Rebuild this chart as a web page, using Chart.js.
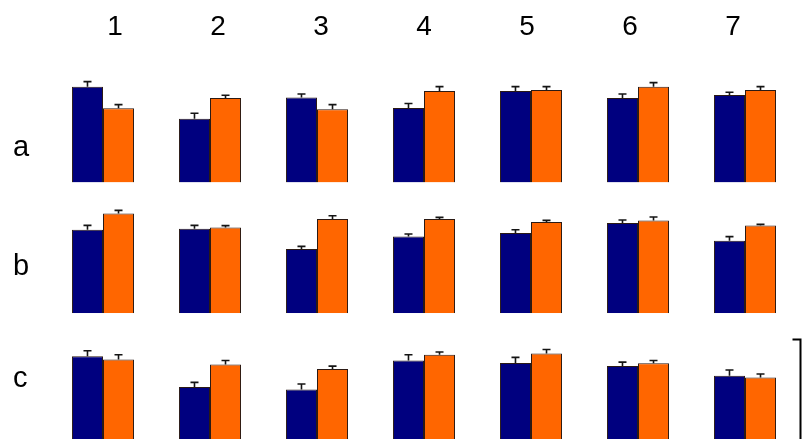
<!DOCTYPE html>
<html>
<head>
<meta charset="utf-8">
<title>Panels a-c, conditions 1-7</title>
<script src="https://cdn.jsdelivr.net/npm/chart.js@4"></script>
<style>
  html, body { margin: 0; padding: 0; background: #fff; overflow: hidden; }
  #wrap { position: relative; width: 803px; height: 444px; }
</style>
</head>
<body>
<div id="wrap"><canvas id="panels"></canvas></div>
<script>
const columns = ['1', '2', '3', '4', '5', '6', '7'];
const rows = ['a', 'b', 'c'];

// row a
const navyA = [91.7, 61.1, 81.2, 71.3, 87.6, 80.9, 83.8];
const navyAErr = [4.8, 5.2, 3.5, 4.2, 4.1, 3.8, 2.5];
const orangeA = [71.1, 80.9, 70.1, 87.6, 88.5, 91.7, 88.5];
const orangeAErr = [3.4, 2.6, 4.4, 4.1, 3.2, 3.8, 3.2];

// row b
const navyB = [79.9, 80.9, 61.5, 73.3, 76.8, 86.3, 69.4];
const navyBErr = [4.1, 3.1, 2.5, 2.5, 3.1, 2.9, 3.9];
const orangeB = [95.5, 82.1, 90.2, 90.2, 87.3, 88.8, 83.8];
const orangeBErr = [2.9, 1.7, 3.1, 1.5, 1.5, 3.3, 1.2];

// row c
const navyC = [84.0, 54.4, 52.2, 79.9, 77.4, 74.5, 65.3];
const navyCErr = [5.2, 4.5, 5.1, 5.5, 5.4, 3.8, 5.4];
const orangeC = [80.9, 76.1, 71.6, 85.4, 86.6, 77.1, 63.7];
const orangeCErr = [4.5, 3.8, 2.9, 2.5, 3.8, 2.8, 3.2];

const scaleBar = 100;

const NAVY = '#00007f';
const ORANGE = '#ff6600';
const EDGE = '#2b1a14';
const FONT = "'Liberation Sans', Arial, sans-serif";

const rowData = [
    { id: 'ya', navy: navyA, navyErr: navyAErr, orange: orangeA, orangeErr: orangeAErr },
    { id: 'yb', navy: navyB, navyErr: navyBErr, orange: orangeB, orangeErr: orangeBErr },
    { id: 'yc', navy: navyC, navyErr: navyCErr, orange: orangeC, orangeErr: orangeCErr }
];

const datasets = [];
rowData.forEach(r => {
    datasets.push({
        data: r.navy, errors: r.navyErr, stack: 'navy', xAxisID: 'x', yAxisID: r.id,
        backgroundColor: NAVY, borderColor: EDGE, borderWidth: 1
    });
    datasets.push({
        data: r.orange, errors: r.orangeErr, stack: 'orange', xAxisID: 'x', yAxisID: r.id,
        backgroundColor: ORANGE, borderColor: EDGE, borderWidth: 1
    });
});

// error whiskers (upper half only, like the original)
const errorBars = {
    id: 'errorBars',
    afterDatasetsDraw(chart) {
        const ctx = chart.ctx;
        ctx.save();
        ctx.strokeStyle = '#141414';
        ctx.lineWidth = 1.6;
        chart.data.datasets.forEach((ds, i) => {
            const meta = chart.getDatasetMeta(i);
            const yScale = chart.scales[ds.yAxisID];
            meta.data.forEach((bar, j) => {
                const top = yScale.getPixelForValue(ds.data[j]);
                const tip = yScale.getPixelForValue(ds.data[j] + ds.errors[j]);
                ctx.beginPath();
                ctx.moveTo(bar.x, top);
                ctx.lineTo(bar.x, tip);
                ctx.moveTo(bar.x - 4, tip);
                ctx.lineTo(bar.x + 4, tip);
                ctx.stroke();
            });
        });
        ctx.restore();
    }
};

// row letters and the scale bracket at the right
const decorations = {
    id: 'decorations',
    afterDraw(chart) {
        const ctx = chart.ctx;
        const lift = [27, 38, 57];
        ctx.save();
        ctx.fillStyle = '#000';
        ctx.font = '29px ' + FONT;
        ctx.textAlign = 'left';
        ctx.textBaseline = 'alphabetic';
        rows.forEach((label, k) => {
            const sc = chart.scales[rowData[k].id];
            ctx.fillText(label, 13, sc.bottom - lift[k]);
        });

        const yc = chart.scales.yc;
        const x = chart.chartArea.right + 2;
        const top = yc.getPixelForValue(scaleBar);
        const bottom = yc.getPixelForValue(0);
        ctx.strokeStyle = '#000';
        ctx.lineWidth = 2;
        ctx.beginPath();
        ctx.moveTo(x - 8, top);
        ctx.lineTo(x, top);
        ctx.lineTo(x, bottom);
        ctx.stroke();
        ctx.restore();
    }
};

const yRow = {
    type: 'linear', stack: 'rows', position: 'left',
    min: 0, max: 125, display: false
};

new Chart(document.getElementById('panels'), {
    type: 'bar',
    data: { labels: columns, datasets: datasets },
    options: {
        responsive: true,
        maintainAspectRatio: false,
        animation: false,
        categoryPercentage: 0.58,
        barPercentage: 1.0,
        layout: { padding: { top: 3.4, left: 49.5, right: 4.5, bottom: 0 } },
        plugins: { legend: { display: false }, tooltip: { enabled: false } },
        scales: {
            x: { type: 'category', display: false },
            xTop: {
                type: 'linear', position: 'top', offset: false,
                min: 0.364, max: 7.636,
                grid: { display: false, drawTicks: false, offset: false },
                border: { display: false },
                ticks: {
                    stepSize: 1, includeBounds: false, autoSkip: false, maxRotation: 0,
                    padding: 7.4, color: '#000',
                    font: { size: 28, family: FONT },
                    callback: v => columns[Math.round(v) - 1]
                }
            },
            yc: { ...yRow },
            yb: { ...yRow },
            ya: { ...yRow }
        }
    },
    plugins: [errorBars, decorations]
});
</script>
</body>
</html>
